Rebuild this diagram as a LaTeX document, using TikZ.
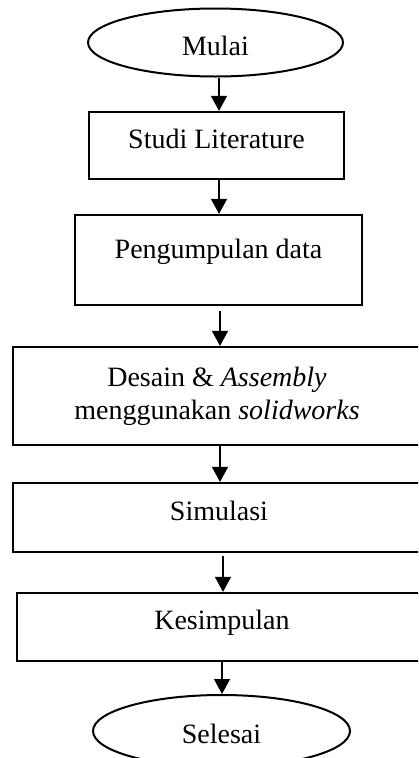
\documentclass[tikz,border=0pt]{standalone}
\usepackage{fontspec}
\setmainfont{Liberation Serif}
\usetikzlibrary{shapes.geometric,arrows.meta}
\tikzset{
  txt/.style={font=\fontsize{28}{33}\selectfont},
  stepbox/.style={txt, draw, line width=2.2pt, rectangle, inner sep=0pt},
  term/.style={txt, draw, line width=2pt, ellipse, inner sep=0pt},
  arr/.style={line width=1.2pt, -{Triangle[length=15pt,width=16pt]}}
}
\begin{document}
\begin{tikzpicture}[x=1pt,y=-1pt]
\useasboundingbox (0,0) rectangle (418,758);
\clip (0,0) rectangle (418,758);
\node[term, minimum width=255pt, minimum height=68pt, text height=27pt, text depth=2pt] (mulai) at (215.5,42.5) {Mulai};
\node[stepbox, minimum width=255pt, minimum height=67pt, text height=20pt, text depth=15pt] (studi) at (216.5,145.5) {Studi Literature};
\node[stepbox, minimum width=287pt, minimum height=90pt, text height=20pt, text depth=24pt] (peng) at (218.5,260) {Pengumpulan data};
\node[stepbox, minimum width=408pt, minimum height=98pt, align=center] (desain) at (217,396) {Desain \& \textit{Assembly}\\menggunakan \textit{solidworks}};
\node[stepbox, minimum width=412pt, minimum height=69pt, text height=20pt, text depth=15pt] (simulasi) at (219,517.5) {Simulasi};
\node[stepbox, minimum width=410pt, minimum height=68pt, text height=20pt, text depth=16pt] (kesimpulan) at (222,627) {Kesimpulan};
\node[term, minimum width=257pt, minimum height=72pt, text height=26pt, text depth=2pt] (selesai) at (221.5,731) {Selesai};
\draw[arr] ([xshift=3.5pt]mulai.south) -- ([xshift=2.5pt]studi.north);
\draw[arr] ([xshift=2.5pt]studi.south) -- ([xshift=0.5pt]peng.north);
\draw[arr, shorten <=5pt] ([xshift=1.5pt]peng.south) -- ([xshift=3pt]desain.north);
\draw[arr] ([xshift=3pt]desain.south) -- ([xshift=1pt]simulasi.north);
\draw[arr, shorten <=3pt] ([xshift=4pt]simulasi.south) -- ([xshift=1pt]kesimpulan.north);
\draw[arr] (kesimpulan.south) -- ([xshift=0.5pt]selesai.north);
\end{tikzpicture}
\end{document}
